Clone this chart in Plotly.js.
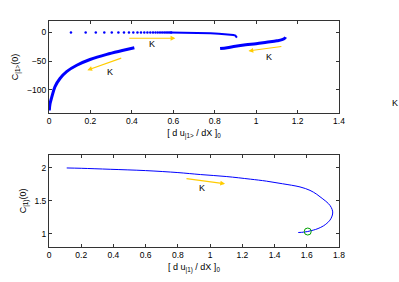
<!DOCTYPE html>
<html><head><meta charset="utf-8">
<script src="https://cdn.plot.ly/plotly-3.0.1.min.js"></script>
<style>html,body{margin:0;padding:0;background:#fff}#c{width:399px;height:282px}</style>
</head><body><div id="c"></div>
<script>
// Top panel: upper branch (sparse dots then dense)
const dotsX = [0.106,0.177,0.226,0.267,0.303,0.335,0.362,0.386,0.407,0.427,0.444,0.460,0.475,0.489,0.502,0.514,0.525,0.536,0.546,0.556,0.565,0.574,0.582,0.590];
const dotsY = [0,0,0,0,0,0,0,0,0,0,0,0,0,0,0,0,0,0,0,0,0,0,0,0];
const denseX = [0.585,0.62,0.66,0.70,0.74,0.78,0.82,0.85,0.87,0.89,0.90,0.905,0.907];
const denseY = [0,0,0,-0.3,-0.7,-1.3,-2,-2.8,-3.5,-4.5,-5.5,-7,-9];
// Top panel: lower-left branch
const leftX = [0.0015,0.005,0.013,0.029,0.053,0.085,0.134,0.198,0.279,0.359,0.412];
const leftY = [-135.5,-124,-113,-94,-80,-68,-57,-47,-38,-31,-26.4];
// Top panel: right branch
const rightX = [0.826,0.86,0.90,0.95,1.00,1.05,1.10,1.125,1.138,1.142];
const rightY = [-28,-26.5,-24,-21.5,-19.5,-17,-14.5,-12.5,-10,-8];
// Bottom panel curve
const botX = [0.11,0.20,0.38,0.60,0.80,0.94,1.10,1.25,1.35,1.45,1.558,1.62,1.662,1.70,1.734,1.752,1.761,1.757,1.744,1.725,1.703,1.67,1.64,1.606,1.58,1.547];
const botY = [2.0,1.995,1.98,1.96,1.93,1.90,1.87,1.83,1.80,1.76,1.712,1.66,1.60,1.53,1.46,1.40,1.333,1.27,1.208,1.16,1.12,1.08,1.056,1.035,1.025,1.02];
const markX = [1.606];
const markY = [1.035];
// Tick labels
const topXTicks = [0,0.2,0.4,0.6,0.8,1,1.2,1.4];
const topXText = ['0','0.2','0.4','0.6','0.8','1','1.2','1.4'];
const topYTicks = [-100,-50,0];
const topYText = ['\u2212100','\u221250','0'];
const botXTicks = [0,0.2,0.4,0.6,0.8,1,1.2,1.4,1.6,1.8];
const botXText = ['0','0.2','0.4','0.6','0.8','1','1.2','1.4','1.6','1.8'];
const botYTicks = [1,1.5,2];
const botYText = ['1','1.5','2'];

const blue = 'rgb(0,0,255)';
const gold = 'rgb(255,204,0)';
const traces = [
  {x: dotsX, y: dotsY, mode: 'markers', marker: {color: blue, size: 2.5}, xaxis: 'x', yaxis: 'y'},
  {x: denseX, y: denseY, mode: 'lines', line: {color: blue, width: 2}, xaxis: 'x', yaxis: 'y'},
  {x: leftX, y: leftY, mode: 'lines', line: {color: blue, width: 3, shape: 'spline', smoothing: 1}, xaxis: 'x', yaxis: 'y'},
  {x: rightX, y: rightY, mode: 'lines', line: {color: blue, width: 3, shape: 'spline'}, xaxis: 'x', yaxis: 'y'},
  {x: botX, y: botY, mode: 'lines', line: {color: blue, width: 1, shape: 'spline'}, xaxis: 'x2', yaxis: 'y2'},
  {x: markX, y: markY, mode: 'markers', marker: {color: 'rgba(0,0,0,0)', size: 7, line: {color: 'rgb(0,160,0)', width: 1}}, xaxis: 'x2', yaxis: 'y2'}
];
const font = {family: 'Liberation Sans, Arial, sans-serif', size: 8.5, color: '#000'};
const tfont = {family: 'Liberation Sans, Arial, sans-serif', size: 9, color: '#000'};
const axBase = {showline: true, linecolor: '#333', linewidth: 1, mirror: 'ticks', ticks: 'inside', ticklen: 3, tickcolor: '#333', showgrid: false, zeroline: false, tickfont: font, tickmode: 'array'};
function arrow(x, y, ax, ay, xr, yr) {
  return {x: x, y: y, ax: ax, ay: ay, xref: xr, yref: yr, axref: xr, ayref: yr, text: '', showarrow: true, arrowhead: 2, arrowsize: 0.8, arrowwidth: 1.2, arrowcolor: gold};
}
function lab(x, y, xr, yr) {
  return {x: x, y: y, xref: xr, yref: yr, text: 'K', showarrow: false, font: tfont};
}
const layout = {
  width: 399, height: 282,
  margin: {l: 49, r: 60, t: 21, b: 35},
  paper_bgcolor: '#fff', plot_bgcolor: '#fff',
  showlegend: false, font: font,
  xaxis: Object.assign({}, axBase, {domain: [0,1], range: [0,1.4], tickvals: topXTicks, ticktext: topXText, anchor: 'y',
    title: {text: '[ d u<sub>|1></sub> / dX ]<sub>0</sub>', font: tfont, standoff: 4}}),
  yaxis: Object.assign({}, axBase, {domain: [0.593,1], range: [-140,20], tickvals: topYTicks, ticktext: topYText, anchor: 'x',
    title: {text: 'C<sub>|1></sub>(0)', font: tfont, standoff: 6}}),
  xaxis2: Object.assign({}, axBase, {domain: [0,1], range: [0,1.8], tickvals: botXTicks, ticktext: botXText, anchor: 'y2',
    title: {text: '[ d u<sub>|1)</sub> / dX ]<sub>0</sub>', font: tfont, standoff: 4}}),
  yaxis2: Object.assign({}, axBase, {domain: [0,0.408], range: [0.8,2.2], tickvals: botYTicks, ticktext: botYText, anchor: 'x2',
    title: {text: 'C<sub>|1)</sub>(0)', font: tfont, standoff: 6}}),
  annotations: [
    arrow(0.61, -10, 0.38, -10, 'x', 'y'),
    lab(0.496, -20, 'x', 'y'),
    arrow(0.185, -65.5, 0.356, -43.6, 'x', 'y'),
    lab(0.295, -68, 'x', 'y'),
    arrow(0.963, -32, 1.129, -24, 'x', 'y'),
    lab(1.06, -43, 'x', 'y'),
    {x: 1.21, y: 0.637, xref: 'paper', yref: 'paper', text: 'K', showarrow: false, font: tfont},
    arrow(1.093, 1.76, 0.844, 1.84, 'x2', 'y2'),
    lab(0.95, 1.69, 'x2', 'y2')
  ]
};
Plotly.newPlot('c', traces, layout, {staticPlot: true});
</script></body></html>
